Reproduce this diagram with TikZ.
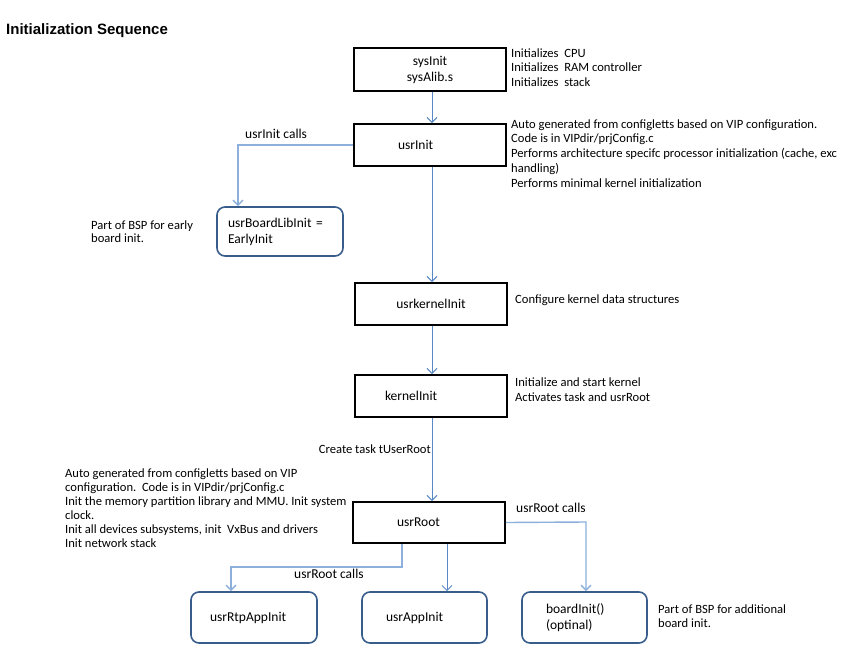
\documentclass[tikz,border=0pt]{standalone}
\usepackage{fontspec}
\setmainfont{Carlito}
\newfontfamily\titlefont{Liberation Sans}
\usetikzlibrary{arrows.meta,calc}
\definecolor{mainln}{RGB}{88,137,196}
\definecolor{lightln}{RGB}{140,176,219}
\definecolor{rbord}{RGB}{56,93,138}
\begin{document}
\begin{tikzpicture}[x=1pt,y=-1pt,
  sqbox/.style={draw=black,line width=1.8pt,inner ysep=0pt,font=\fontsize{13.5}{16}\selectfont},
  rbox/.style={draw=rbord,line width=1.6pt,rounded corners=8pt,inner ysep=0pt,font=\fontsize{13.5}{16}\selectfont},
  side/.style={anchor=base west,inner sep=0pt,align=left,font=\fontsize{12.6}{14.5}\selectfont},
  lbl/.style={anchor=base west,inner sep=0pt,font=\fontsize{13.5}{16}\selectfont},
  flow/.style={draw=mainln,line width=1pt,-{Straight Barb[length=5pt,width=10pt]}},
  branch/.style={draw=lightln,line width=1.4pt,-{Straight Barb[length=5pt,width=10pt]}}
]
\useasboundingbox[fill=white] (0,0) rectangle (847,667);

% title
\node[anchor=base west,inner sep=0pt,font=\titlefont\bfseries\fontsize{15}{18}\selectfont] (title) at (6,34) {Initialization Sequence};

% square boxes
\node[sqbox,minimum height=43pt,text width=140pt,inner xsep=6pt,align=center] (sys) at (430,69.5) {sysInit\\sysAlib.s};
\node[sqbox,minimum height=42pt,text width=64pt,inner xsep=44pt,align=left] (ui) at (430,145) {usrInit};
\node[sqbox,minimum height=42pt,text width=140pt,inner xsep=6pt,align=center] (uk) at (431,304) {usrkernelInit};
\node[sqbox,minimum height=42pt,text width=92pt,inner xsep=30pt,align=left] (ki) at (431,396) {kernelInit};
\node[sqbox,minimum height=41pt,text width=64pt,inner xsep=44pt,align=left] (ur) at (429,522.5) {usrRoot};

% rounded boxes
\node[rbox,minimum height=49pt,text width=104pt,inner xsep=11pt,align=left] (bli) at (280,231.5) {usrBoardLibInit =\\EarlyInit};
\node[rbox,minimum height=51pt,text width=88pt,inner xsep=19pt,align=left] (rtp) at (254,617.5) {usrRtpAppInit};
\node[rbox,minimum height=51pt,text width=77pt,inner xsep=24pt,align=left] (app) at (424.5,617.5) {usrAppInit};
\node[rbox,minimum height=51pt,text width=77pt,inner xsep=24pt,align=left] (brd) at (584.5,617.5) {boardInit()\\(optinal)};

% side texts (anchor = baseline of the last line)
\node[side] (t1) at (511,86) {Initializes\ \ CPU\\Initializes\ \ RAM controller\\Initializes\ \ stack};
\node[side,font=\fontsize{12.6}{14.75}\selectfont] (t2) at (511,187) {Auto generated from configletts based on VIP configuration.\\Code is in VIPdir/prjConfig.c\\Performs architecture specifc processor initialization (cache, exc\\handling)\\Performs minimal kernel initialization};
\node[side] (t3) at (515,303) {Configure kernel data structures};
\node[side,font=\fontsize{12.6}{15}\selectfont] (t4) at (515,401) {Initialize and start kernel\\Activates task and usrRoot};
\node[side,font=\fontsize{12.6}{14}\selectfont] (t5) at (65,547) {Auto generated from configletts based on VIP\\configuration.\ \ Code is in VIPdir/prjConfig.c\\Init the memory partition library and MMU. Init system\\clock.\\Init all devices subsystems, init\ \ VxBus and drivers\\Init network stack};
\node[side,font=\fontsize{12.6}{13.5}\selectfont] (t6) at (91,242.5) {Part of BSP for early\\board init.};
\node[side,font=\fontsize{12.6}{14}\selectfont] (t7) at (658,627) {Part of BSP for additional\\board init.};
\node[side,anchor=base east] (t8) at (431,453) {Create task tUserRoot};

% connector labels
\node[lbl] (l1) at (245,138) {usrInit calls};
\node[lbl] (l2) at (516,512) {usrRoot calls};
\node[lbl] (l3) at (294,578) {usrRoot calls};

% helper coordinates
\coordinate (m1) at (432,0);
\coordinate (c1) at (238,145);
\coordinate (r1) at (402,567);
\coordinate (r2) at (231,567);
\coordinate (r3) at (447,0);
\coordinate (r4) at (586,522);

% main flow
\draw[flow] (sys.south -| m1) -- (ui.north -| m1);
\draw[flow] (ui.south -| m1) -- (uk.north -| m1);
\draw[flow] (uk.south -| m1) -- (ki.north -| m1);
\draw[flow] (ki.south -| m1) -- (ur.north -| m1);
\draw[flow] (ur.south -| r3) -- (app.north -| r3);

% branches
\draw[branch] (ui.west) -- (c1) -- (c1 |- bli.north);
\draw[branch] (ur.south -| r1) -- (r1) -- (r2) -- (r2 |- rtp.north);
\draw[branch] (ur.east) -- (r4) -- (r4 |- brd.north);
\end{tikzpicture}
\end{document}
